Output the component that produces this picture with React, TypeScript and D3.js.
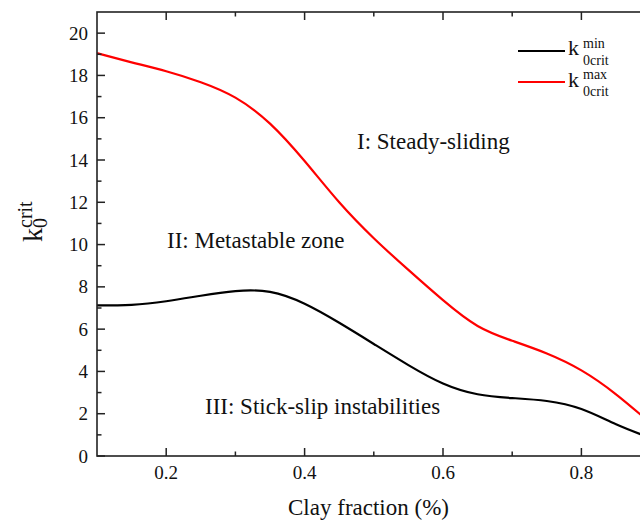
import React from "react";
import * as d3 from "d3";

const clayFraction = [0.1, 0.15, 0.2, 0.25, 0.3, 0.35, 0.4, 0.45, 0.5, 0.55, 0.6, 0.65, 0.7, 0.75, 0.8, 0.85, 0.9];
const kMin = [7.12, 7.15, 7.32, 7.58, 7.8, 7.76, 7.2, 6.3, 5.3, 4.3, 3.43, 2.92, 2.74, 2.6, 2.22, 1.5, 0.85];
const kMax = [19.05, 18.62, 18.2, 17.68, 16.95, 15.72, 13.95, 12.0, 10.3, 8.8, 7.37, 6.15, 5.45, 4.85, 4.05, 2.92, 1.55];

const xMajorTicks = [0.2, 0.4, 0.6, 0.8];
const xMinorTicks = [0.3, 0.5, 0.7];
const yMajorTicks = [0, 2, 4, 6, 8, 10, 12, 14, 16, 18, 20];
const yMinorTicks = [1, 3, 5, 7, 9, 11, 13, 15, 17, 19];

const W = 640;
const H = 522;
const left = 97;
const top = 12;
const bottom = 456;
const xDomain: [number, number] = [0.1, 0.9];
const yDomain: [number, number] = [0, 21];

const FONT = "'Liberation Serif', 'Times New Roman', serif";

export default function App() {
  const x = d3.scaleLinear().domain(xDomain).range([left, left + 8 * 69.2]);
  const y = d3.scaleLinear().domain(yDomain).range([bottom, top]);
  const right = x(xDomain[1]);

  const line = d3
    .line<number>()
    .x((_, i) => x(clayFraction[i]))
    .y((d) => y(d))
    .curve(d3.curveNatural);

  const axisColor = "#222";
  const maj = 8;
  const mnr = 4.5;

  return (
    <div style={{ position: "absolute", left: 0, top: 0 }}>
      <svg width={W} height={H} style={{ display: "block", background: "#fff" }} fontFamily={FONT}>
        <defs>
          <clipPath id="plot">
            <rect x={left} y={top} width={right - left} height={bottom - top} />
          </clipPath>
        </defs>
        <g clipPath="url(#plot)" fill="none" strokeWidth={2.2}>
          <path d={line(kMin) || ""} stroke="#000" />
          <path d={line(kMax) || ""} stroke="#ff0000" />
        </g>
        <rect x={left} y={top} width={right - left} height={bottom - top} fill="none" stroke={axisColor} strokeWidth={1.6} />
        {xMajorTicks.map((t) => (
          <g key={"xM" + t}>
            <line x1={x(t)} x2={x(t)} y1={bottom} y2={bottom - maj} stroke={axisColor} strokeWidth={1.5} />
            <line x1={x(t)} x2={x(t)} y1={top} y2={top + maj} stroke={axisColor} strokeWidth={1.5} />
            <text x={x(t)} y={479} textAnchor="middle" fontSize={19} fill="#111">
              {t.toFixed(1)}
            </text>
          </g>
        ))}
        {xMinorTicks.map((t) => (
          <g key={"xm" + t}>
            <line x1={x(t)} x2={x(t)} y1={bottom} y2={bottom - mnr} stroke={axisColor} strokeWidth={1.5} />
            <line x1={x(t)} x2={x(t)} y1={top} y2={top + mnr} stroke={axisColor} strokeWidth={1.5} />
          </g>
        ))}
        {yMajorTicks.map((t) => (
          <g key={"yM" + t}>
            <line x1={left} x2={left + maj} y1={y(t)} y2={y(t)} stroke={axisColor} strokeWidth={1.5} />
            <text x={88} y={y(t) + 6.5} textAnchor="end" fontSize={19} fill="#111">
              {t}
            </text>
          </g>
        ))}
        {yMinorTicks.map((t) => (
          <line key={"ym" + t} x1={left} x2={left + mnr} y1={y(t)} y2={y(t)} stroke={axisColor} strokeWidth={1.5} />
        ))}
        <text x={(left + 640) / 2} y={515} textAnchor="middle" fontSize={23} fill="#111">
          Clay fraction (%)
        </text>
        <g transform="translate(42,242) rotate(-90)" fill="#111">
          <text x={0} y={0} fontSize={28}>k</text>
          <text x={14} y={-10} fontSize={20}>crit</text>
          <text x={14} y={5} fontSize={20}>0</text>
        </g>
        <text x={357} y={149} fontSize={23} fill="#111">I: Steady-sliding</text>
        <text x={167} y={248} fontSize={23} fill="#111">II: Metastable zone</text>
        <text x={205} y={414} fontSize={23} fill="#111">III: Stick-slip instabilities</text>
        <g fill="#111">
          <line x1={518} x2={565} y1={51} y2={51} stroke="#000" strokeWidth={2.2} />
          <text x={568} y={55} fontSize={22}>k</text>
          <text x={583} y={48} fontSize={14}>min</text>
          <text x={583} y={65} fontSize={14}>0crit</text>
          <line x1={518} x2={565} y1={82} y2={82} stroke="#ff0000" strokeWidth={2.2} />
          <text x={568} y={87} fontSize={22}>k</text>
          <text x={583} y={79} fontSize={14}>max</text>
          <text x={583} y={96} fontSize={14}>0crit</text>
        </g>
      </svg>
    </div>
  );
}
